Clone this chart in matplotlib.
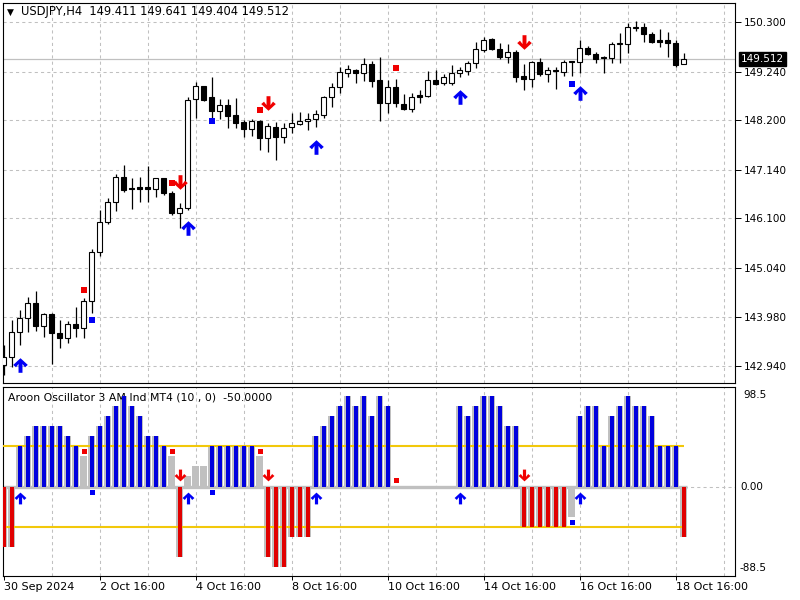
import numpy as np
import matplotlib
matplotlib.use("Agg")
import matplotlib.pyplot as plt
from matplotlib.path import Path

plt.rcParams['font.family'] = ['DejaVu Sans']

# USDJPY H4, 30 Sep 16:00 .. 18 Oct 20:00
opens = [142.960, 143.125, 143.660, 143.959, 144.280, 143.801, 144.051, 143.638, 143.531, 143.837,
         143.745, 144.330, 145.372, 146.027, 146.455, 146.990, 146.741, 146.763, 146.763, 146.720,
         146.955, 146.647, 146.219, 146.326, 148.646, 148.931, 148.689, 148.402, 148.518, 148.310,
         148.154, 148.004, 148.182, 147.811, 148.060, 147.833, 148.047, 148.124, 148.188, 148.218,
         148.310, 148.702, 148.903, 149.215, 149.273, 149.202, 149.401, 149.059, 148.573, 148.903,
         148.539, 148.445, 148.732, 148.723, 149.053, 148.988, 148.988, 149.202, 149.258, 149.416,
         149.701, 149.936, 149.716, 149.558, 149.652, 149.145, 149.080, 149.438, 149.187, 149.267,
         149.237, 149.459, 149.438, 149.737, 149.615, 149.545, 149.523, 149.823, 149.823, 150.165,
         150.187, 150.037, 149.915, 149.915, 149.857, 149.411]
highs = [143.388, 143.923, 144.137, 144.422, 144.544, 144.079, 144.079, 143.923, 143.908, 144.195,
         144.394, 145.442, 146.277, 146.527, 147.047, 147.240, 146.955, 146.990, 147.219, 146.962,
         146.972, 146.690, 146.420, 148.689, 149.023, 148.941, 149.130, 148.652, 148.652, 148.680,
         148.203, 148.218, 148.203, 148.145, 148.154, 148.132, 148.346, 148.368, 148.346, 148.417,
         148.717, 148.988, 149.344, 149.380, 149.284, 149.523, 149.466, 149.545, 149.059, 149.074,
         148.759, 148.787, 148.845, 149.252, 149.273, 149.187, 149.380, 149.344, 149.472, 149.879,
         149.973, 149.968, 149.844, 149.829, 149.701, 149.395, 149.466, 149.523, 149.344, 149.344,
         149.487, 149.466, 149.915, 149.793, 149.665, 149.579, 149.879, 150.058, 150.272, 150.322,
         150.272, 150.080, 150.144, 150.080, 149.915, 149.641]
lows = [142.746, 142.924, 143.388, 143.673, 143.694, 143.566, 142.981, 143.330, 143.424, 143.566,
        143.531, 144.083, 145.299, 145.977, 146.262, 146.669, 146.292, 146.455, 146.455, 146.562,
        146.609, 146.170, 145.885, 146.277, 148.239, 148.610, 148.218, 148.218, 148.025, 148.025,
        147.833, 147.867, 147.561, 147.512, 147.347, 147.704, 147.931, 148.107, 147.989, 148.060,
        148.239, 148.488, 148.774, 149.130, 148.988, 149.038, 148.903, 148.188, 148.346, 148.488,
        148.417, 148.381, 148.573, 148.706, 148.952, 148.952, 148.952, 149.117, 149.166, 149.322,
        149.665, 149.701, 149.502, 149.429, 149.023, 148.845, 148.916, 149.145, 149.023, 148.860,
        149.145, 149.145, 149.202, 149.594, 149.416, 149.215, 149.416, 149.416, 149.630, 150.114,
        149.879, 149.844, 149.759, 149.558, 149.344, 149.404]
closes = [143.125, 143.660, 143.959, 144.280, 143.801, 144.045, 143.638, 143.544, 143.837, 143.745,
          144.330, 145.372, 146.027, 146.455, 146.990, 146.705, 146.720, 146.733, 146.720, 146.955,
          146.634, 146.219, 146.326, 148.631, 148.931, 148.631, 148.402, 148.518, 148.295, 148.145,
          148.004, 148.175, 147.811, 148.075, 147.833, 148.025, 148.132, 148.188, 148.231, 148.325,
          148.702, 148.903, 149.224, 149.288, 149.202, 149.395, 149.044, 148.573, 148.903, 148.560,
          148.445, 148.702, 148.702, 149.053, 148.980, 149.117, 149.202, 149.273, 149.416, 149.716,
          149.915, 149.716, 149.558, 149.652, 149.130, 149.074, 149.438, 149.187, 149.267, 149.245,
          149.451, 149.438, 149.737, 149.609, 149.515, 149.523, 149.829, 149.844, 150.187, 150.187,
          150.037, 149.879, 149.879, 149.844, 149.380, 149.512]

# Aroon oscillator (10)
aroon = [-60, -60, 40, 50, 60, 60, 60, 60, 50, 40,
         30, 50, 60, 70, 80, 90, 80, 70, 50, 50,
         40, 30, -70, 10, 20, 20, 40, 40, 40, 40,
         40, 40, 30, -70, -80, -80, -50, -50, -50, 50,
         60, 70, 80, 90, 80, 90, 70, 90, 80, 0,
         0, 0, 0, 0, 0, 0, 0, 80, 70, 80,
         90, 90, 80, 60, 60, -40, -40, -40, -40, -40,
         -40, -30, 70, 80, 80, 40, 70, 80, 90, 80,
         80, 70, 40, 40, 40, -50]
levels = [40, -40]

# signals
buy_bars = [2, 23, 39, 57, 72]
buy_price = [142.960, 145.885, 147.632, 148.702, 148.774]
sell_bars = [22, 33, 65]
sell_price = [146.883, 148.560, 149.879]
red_dot_bars = [10, 21, 32, 49]
red_dot_price = [144.565, 146.860, 148.417, 149.309]
blue_dot_bars = [11, 26, 71]
blue_dot_price = [143.917, 148.182, 148.973]
osc_buy_val = -11
osc_sell_val = 11
osc_red_dot = [35, 35, 35, 6]
osc_blue_dot = [-5, -5, -35]

price_ticks = [142.94, 143.98, 145.04, 146.10, 147.14, 148.20, 149.24, 150.30]
time_bars = [0, 12, 24, 36, 48, 60, 72, 84]
time_labels = ["30 Sep 2024", "2 Oct 16:00", "4 Oct 16:00", "8 Oct 16:00",
               "10 Oct 16:00", "14 Oct 16:00", "16 Oct 16:00", "18 Oct 16:00"]
grid_bars = list(range(6, 91, 6))
last_price = 149.512

o = np.array(opens); h = np.array(highs); l = np.array(lows); c = np.array(closes)
x = np.arange(len(o))
osc = np.array(aroon)

BLUE = '#0000f5'
RED = '#f00000'
GRID = '#c0c0c0'
dash = (0, (3, 3))

# thick arrow with chevron head
up_verts = [(0, 1), (1.0, 0.08), (0.62, -0.25), (0.27, 0.22), (0.27, -1),
            (-0.27, -1), (-0.27, 0.22), (-0.62, -0.25), (-1.0, 0.08), (0, 1)]
up_arrow = Path(up_verts, closed=True)
down_arrow = Path([(vx, -vy) for vx, vy in up_verts], closed=True)

fig = plt.figure(figsize=(8, 6), dpi=100)
ax = fig.add_axes([3 / 800, 1 - 383 / 600, 732 / 800, 380 / 600])
ax2 = fig.add_axes([3 / 800, 1 - 576 / 600, 732 / 800, 189 / 600])

xl = (-0.0625, 91.4375)

# ---- main chart
for g in grid_bars:
    ax.axvline(g, color=GRID, lw=0.75, ls=dash, zorder=0)
for p in price_ticks:
    ax.axhline(p, color=GRID, lw=0.75, ls=dash, zorder=0)
ax.axhline(last_price, color=GRID, lw=0.9, zorder=1)

ax.vlines(x, l, h, color='black', lw=0.9, zorder=2)
body = np.maximum(np.abs(c - o), 0.02)
cols = np.where(c > o, 'white', 'black')
ax.bar(x, body, bottom=np.minimum(o, c), width=0.52, color=cols,
       edgecolor='black', linewidth=0.8, zorder=3)

ax.plot(red_dot_bars, red_dot_price, 's', color=RED, ms=3.8, mew=0, zorder=4)
ax.plot(blue_dot_bars, blue_dot_price, 's', color=BLUE, ms=3.8, mew=0, zorder=4)
ax.plot(buy_bars, buy_price, ls='none', marker=up_arrow, color=BLUE, ms=10.5, mew=0, zorder=5)
ax.plot(sell_bars, sell_price, ls='none', marker=down_arrow, color=RED, ms=10.5, mew=0, zorder=5)

ax.set_xlim(*xl)
ax.set_ylim(142.5764, 150.7065)
ax.set_xticks([])
ax.yaxis.tick_right()
ax.set_yticks(price_ticks)
ax.set_yticklabels(['%.3f' % p for p in price_ticks])
ax.tick_params(axis='y', direction='out', length=4.3, width=0.7, pad=2, labelsize=7.5)

ax.text((10 - 3) / 732, (383 - 12) / 380, '\u25bc', transform=ax.transAxes,
        fontsize=6.5, va='center', ha='center')
ax.text((21 - 3) / 732, (383 - 12) / 380, 'USDJPY,H4  149.411 149.641 149.404 149.512',
        transform=ax.transAxes, fontsize=8.3, va='center', ha='left')
ax.text(1 + 6 / 732, last_price, '%.3f' % last_price,
        transform=ax.get_yaxis_transform(), fontsize=7.5, color='white',
        va='center', ha='left',
        bbox=dict(boxstyle='square,pad=0.2', fc='black', ec='black'))

# ---- oscillator
for g in grid_bars:
    ax2.axvline(g, color=GRID, lw=0.75, ls=dash, zorder=0)
ax2.axhline(0, color=GRID, lw=0.75, ls=dash, zorder=0)

ax2.bar(x, osc, width=0.82, color='#c0c0c0', zorder=2)
ax2.hlines(0, -0.5, x[-1] + 0.4, color='#c0c0c0', lw=2.4, zorder=2)
ax2.hlines(levels, -0.5, x[-1], color='#f2c80a', lw=1.5, zorder=3)
up = osc >= levels[0]
dn = osc <= levels[1]
ax2.bar(x[up], osc[up], width=0.5, color='#0000dd', zorder=4)
ax2.bar(x[dn], osc[dn], width=0.5, color='#e00000', zorder=4)

ax2.plot(red_dot_bars, osc_red_dot, 's', color=RED, ms=3.6, mew=0, zorder=5)
ax2.plot(blue_dot_bars, osc_blue_dot, 's', color=BLUE, ms=3.6, mew=0, zorder=5)
ax2.plot(buy_bars, [osc_buy_val] * len(buy_bars), ls='none', marker=up_arrow,
         color=BLUE, ms=8.5, mew=0, zorder=5)
ax2.plot(sell_bars, [osc_sell_val] * len(sell_bars), ls='none', marker=down_arrow,
         color=RED, ms=8.5, mew=0, zorder=5)

ax2.set_xlim(*xl)
ax2.set_ylim(-88.5, 98.5)
ax2.set_yticks([])
ax2.set_xticks(time_bars)
ax2.set_xticklabels(time_labels, ha='left')
ax2.tick_params(axis='x', direction='out', length=3, width=0.7, pad=1.5, labelsize=8)

ax2.text((8 - 3) / 732, (576 - 397) / 189, 'Aroon Oscillator 3 AM Ind MT4 (10 , 0)  -50.0000',
         transform=ax2.transAxes, fontsize=7.8, va='center', ha='left')
tr = ax2.get_yaxis_transform()
ax2.text(1 + 8 / 732, (576 - 395) / 189, '98.5', transform=ax2.transAxes,
         fontsize=7.5, va='center', ha='left')
ax2.text(1 + 5 / 732, 0, '0.00', transform=tr, fontsize=7.5, va='center', ha='left')
ax2.text(1 + 5 / 732, (576 - 568) / 189, '-88.5', transform=ax2.transAxes,
         fontsize=7.5, va='center', ha='left')

for a in (ax, ax2):
    for s in a.spines.values():
        s.set_linewidth(0.8)
        s.set_color('black')

fig.savefig('out.png', dpi=100)
